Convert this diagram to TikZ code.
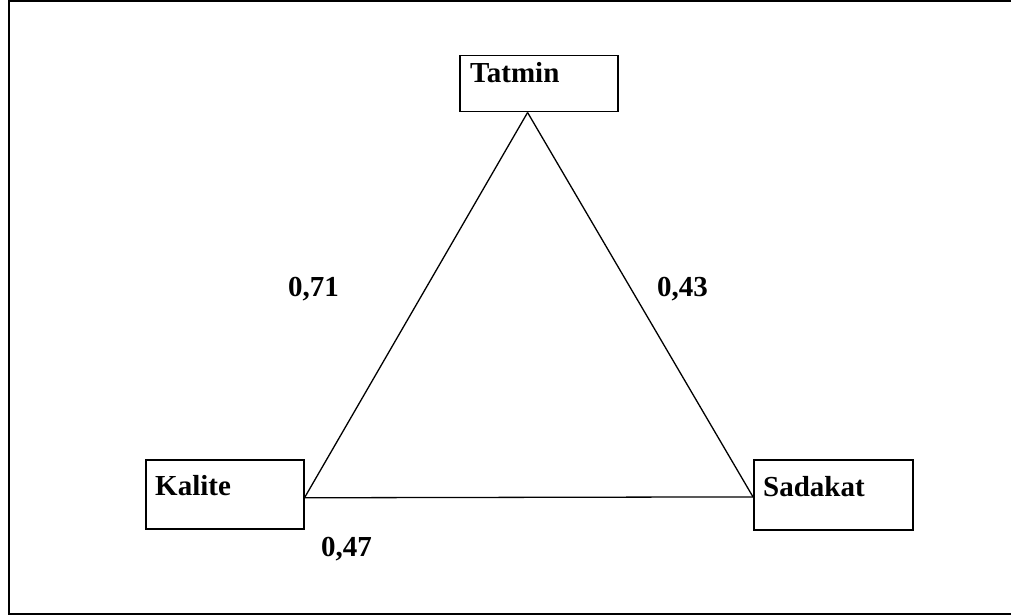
\documentclass[tikz,border=0pt]{standalone}
\usepackage{fontspec}
\setmainfont{Liberation Serif}
\usetikzlibrary{calc}
\begin{document}
\begin{tikzpicture}[x=1pt,y=-1pt,
  boxnode/.style={draw,line width=1.5pt,inner sep=0pt,anchor=north west},
  txt/.style={inner sep=0pt,anchor=base west,font=\fontsize{29}{32}\selectfont\bfseries},
  edge/.style={line width=1.3pt}]
\useasboundingbox (0,0) rectangle (1011,615);
\draw[line width=2pt] (1020,1) -- (8.5,1) -- (8.5,614) -- (1020,614);
\node[boxnode,minimum width=158pt,minimum height=56pt] (tat) at (459,55) {};
\node[boxnode,minimum width=158pt,minimum height=69pt] (kal) at (145,459) {};
\node[boxnode,minimum width=159pt,minimum height=70pt] (sad) at (753,459) {};
\node[txt] (tatt) at (470,83) {Tatmin};
\node[txt] (kalt) at (155,495) {Kalite};
\node[txt] (sadt) at (763,496) {Sadakat};
\node[txt] (l71) at (288,296) {0,71};
\node[txt] (l43) at (657,296) {0,43};
\node[txt] (l47) at (321,556) {0,47};
\coordinate (apex) at ($(tat.south west)!0.43!(tat.south east)$);
\coordinate (kj) at ($(kal.south east)!0.45!(kal.north east)$);
\coordinate (sj) at ($(sad.south west)!0.47!(sad.north west)$);
\draw[edge] (apex) -- (kj);
\draw[edge] (apex) -- (sj);
\draw[edge] (kj) -- (sj);
\end{tikzpicture}
\end{document}
